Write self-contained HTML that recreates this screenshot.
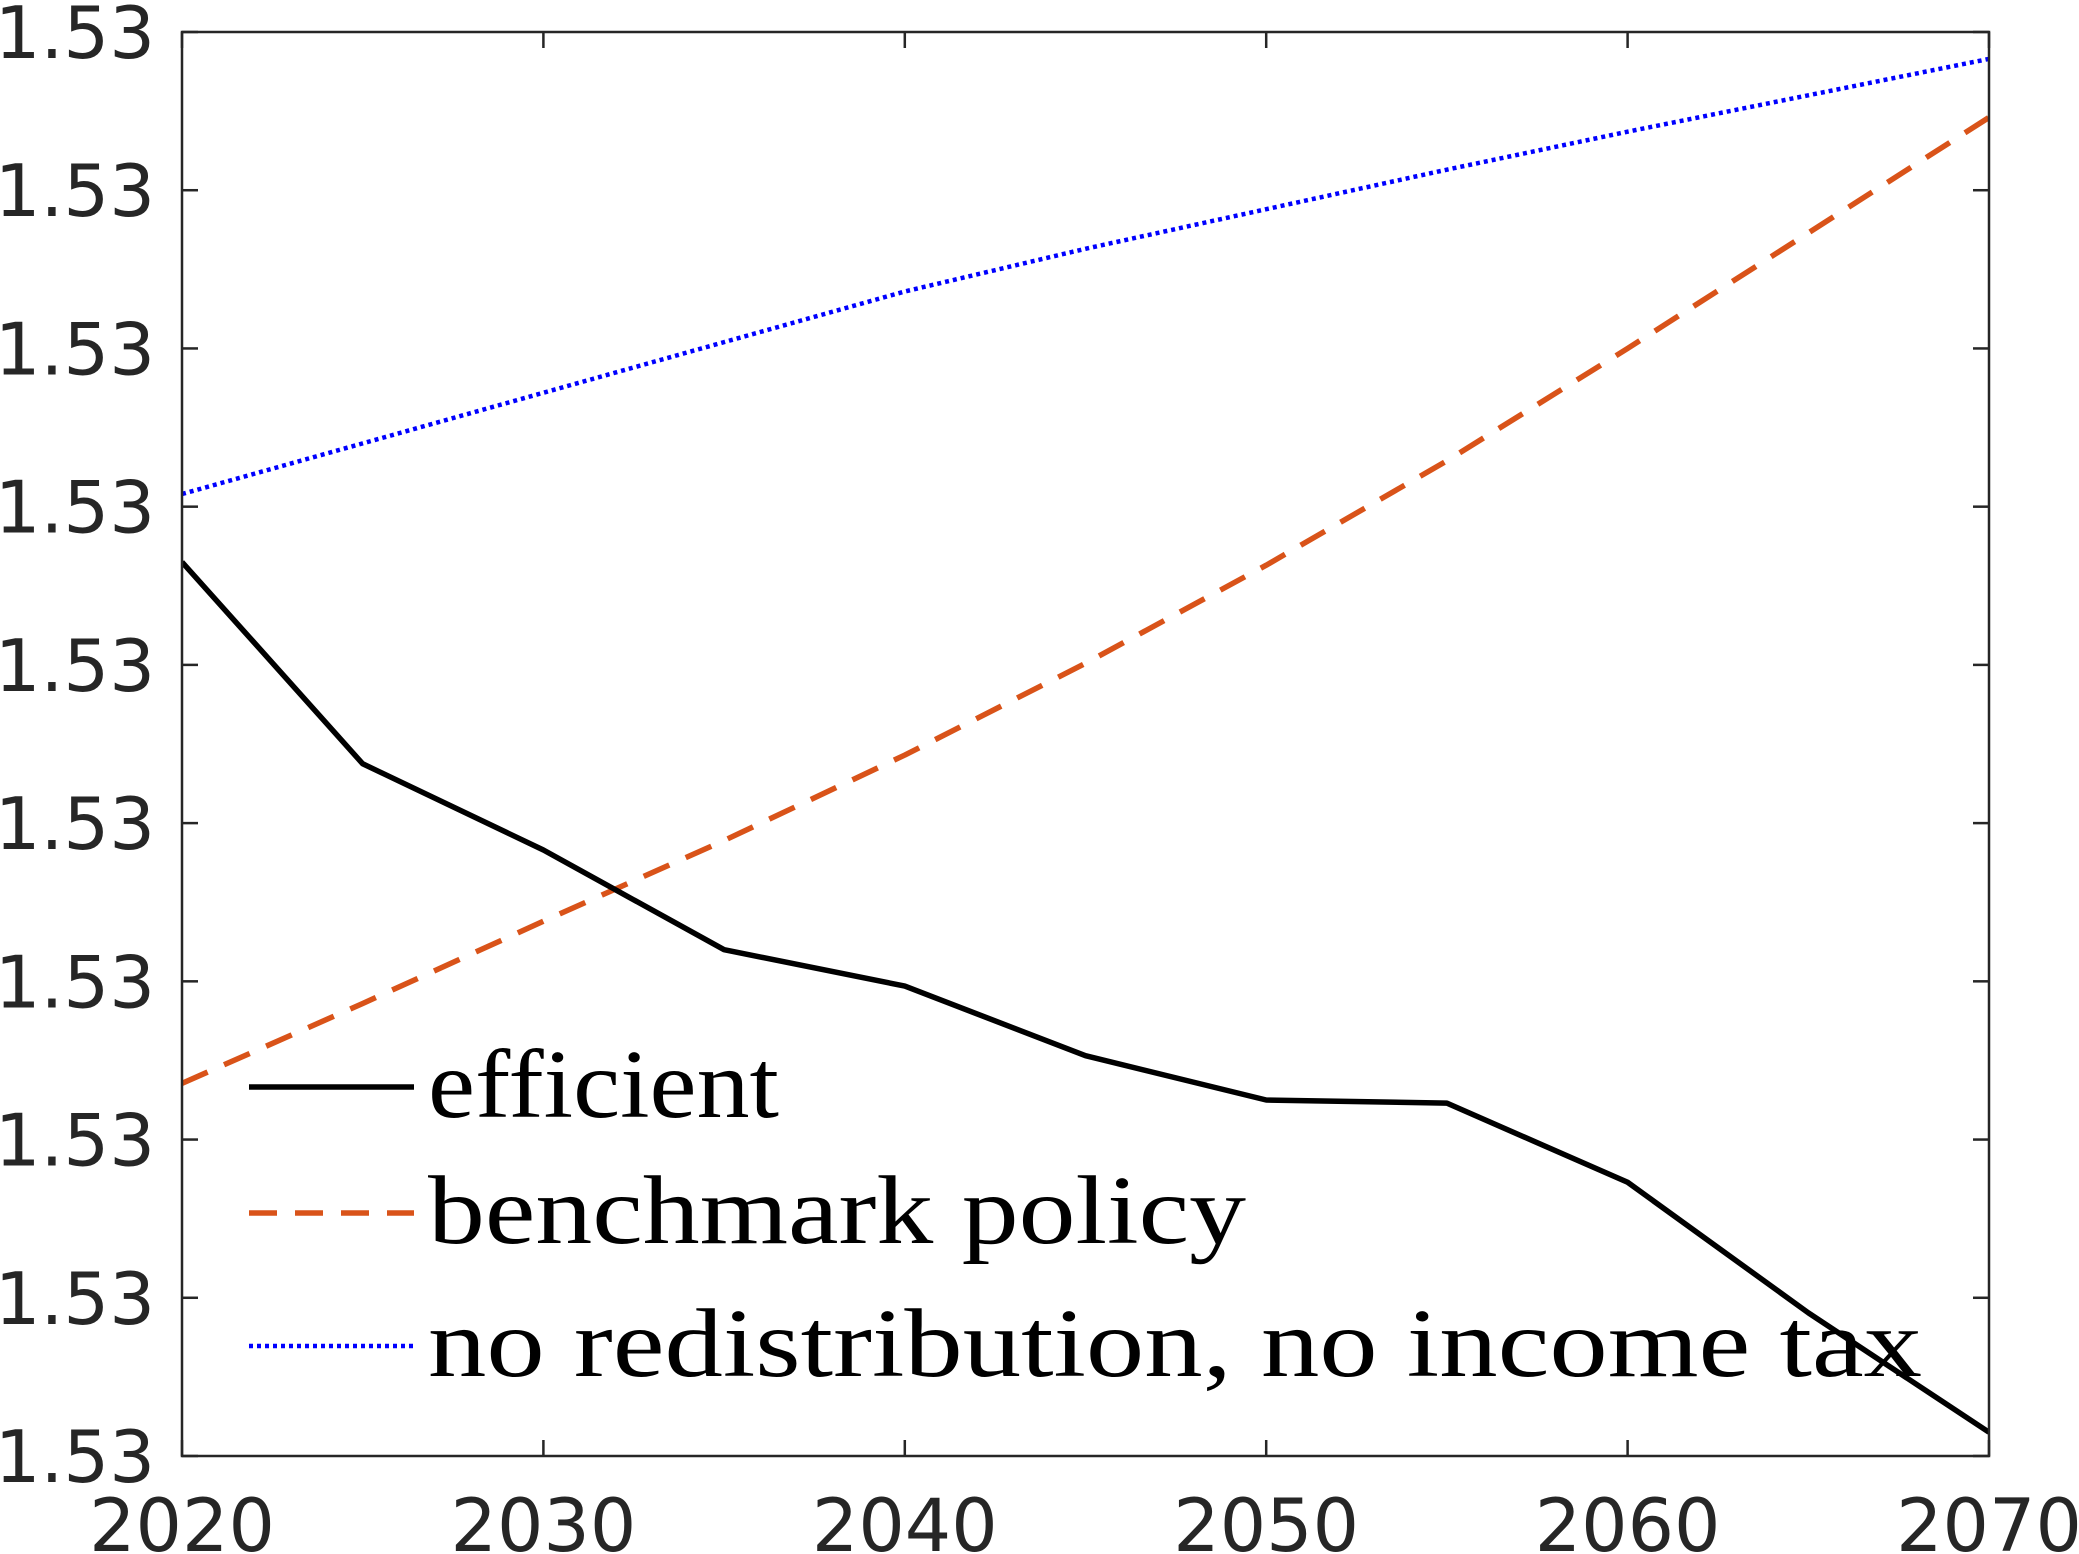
<!DOCTYPE html>
<html><head><meta charset="utf-8"><style>
html,body{margin:0;padding:0;background:#fff;overflow:hidden}
svg{display:block}
</style></head><body>
<svg id="chart" width="2079" height="1554" viewBox="0 0 2079 1554" xmlns="http://www.w3.org/2000/svg"></svg>
<script>
const years = [2020,2025,2030,2035,2040,2045,2050,2055,2060,2065,2070];
const efficient = [5.65,4.375,3.83,3.20,2.97,2.53,2.25,2.23,1.73,0.905,0.15];
const benchmark = [2.355,2.86,3.38,3.89,4.43,5.01,5.63,6.29,7.00,7.73,8.46];
const noRedistribution = [6.08,6.40,6.72,7.04,7.36,7.63,7.88,8.13,8.37,8.60,8.83];
const xTicks = [2020,2030,2040,2050,2060,2070];
const yTicks = [0,1,2,3,4,5,6,7,8,9];
const yTickLabels = ["1.53","1.53","1.53","1.53","1.53","1.53","1.53","1.53","1.53","1.53"];

const L=182,R=1989,T=32,B=1456;
const x = v => L + (v-2020)/(2070-2020)*(R-L);
const y = v => B - (v-0)/(9-0)*(B-T);
const NS="http://www.w3.org/2000/svg";
const svg=document.getElementById('chart');
function mk(tag,attrs,parent){const e=document.createElementNS(NS,tag);for(const k in attrs)e.setAttribute(k,attrs[k]);(parent||svg).appendChild(e);return e;}

const clip=mk('clipPath',{id:'plotclip'});
mk('rect',{x:L,y:T,width:R-L,height:B-T},clip);

function series(vals,stroke,dash,name,w){
  const p=mk('polyline',{points:vals.map((v,i)=>x(years[i])+','+y(v)).join(' '),fill:'none',stroke:stroke,'stroke-width':w,'stroke-dasharray':dash,'clip-path':'url(#plotclip)','stroke-linejoin':'round'});
  
  
}
series(noRedistribution,'#0000ff','4 4','series-no-redistribution',4.5);
series(benchmark,'#d95319','28 18','series-benchmark-policy',5.5);
series(efficient,'#000000','none','series-efficient',5.5);

const axis=mk('g',{});


mk('rect',{x:L,y:T,width:R-L,height:B-T,fill:'none',stroke:'#262626','stroke-width':2.5},axis);
xTicks.forEach(t=>{
  const X=x(t);
  mk('line',{x1:X,y1:B,x2:X,y2:B-16,stroke:'#262626','stroke-width':2.5},axis);
  mk('line',{x1:X,y1:T,x2:X,y2:T+16,stroke:'#262626','stroke-width':2.5},axis);
  const tx=mk('text',{x:X,y:1551,'text-anchor':'middle','font-family':'DejaVu Sans, Liberation Sans, sans-serif','font-size':73,fill:'#262626'});
  tx.textContent=t;
  
  
});
yTicks.forEach((t,i)=>{
  const Y=y(t);
  mk('line',{x1:L,y1:Y,x2:L+16,y2:Y,stroke:'#262626','stroke-width':2.5},axis);
  mk('line',{x1:R,y1:Y,x2:R-16,y2:Y,stroke:'#262626','stroke-width':2.5},axis);
  const tx=mk('text',{x:155,y:Y+26,'text-anchor':'end','font-family':'DejaVu Sans, Liberation Sans, sans-serif','font-size':72,fill:'#262626'});
  tx.textContent=yTickLabels[i];
  
  
});

const legend=mk('g',{});


const entries=[['efficient','#000','none',5.5,1087,351],['benchmark policy','#d95319','28 18',5.5,1213,818],['no redistribution, no income tax','#0000ff','4 4',4.5,1346,1494]];
entries.forEach(e=>{
  const g=mk('g',{},legend);
  
  
  mk('line',{x1:249,y1:e[4],x2:414,y2:e[4],stroke:e[1],'stroke-width':e[3],'stroke-dasharray':e[2]},g);
  const tx=mk('text',{x:428,y:e[4]+30,'font-family':'Liberation Serif, DejaVu Serif, serif','font-size':98,fill:'#000',textLength:e[5],lengthAdjust:'spacingAndGlyphs'},g);
  tx.textContent=e[0];
});
</script>
</body></html>
